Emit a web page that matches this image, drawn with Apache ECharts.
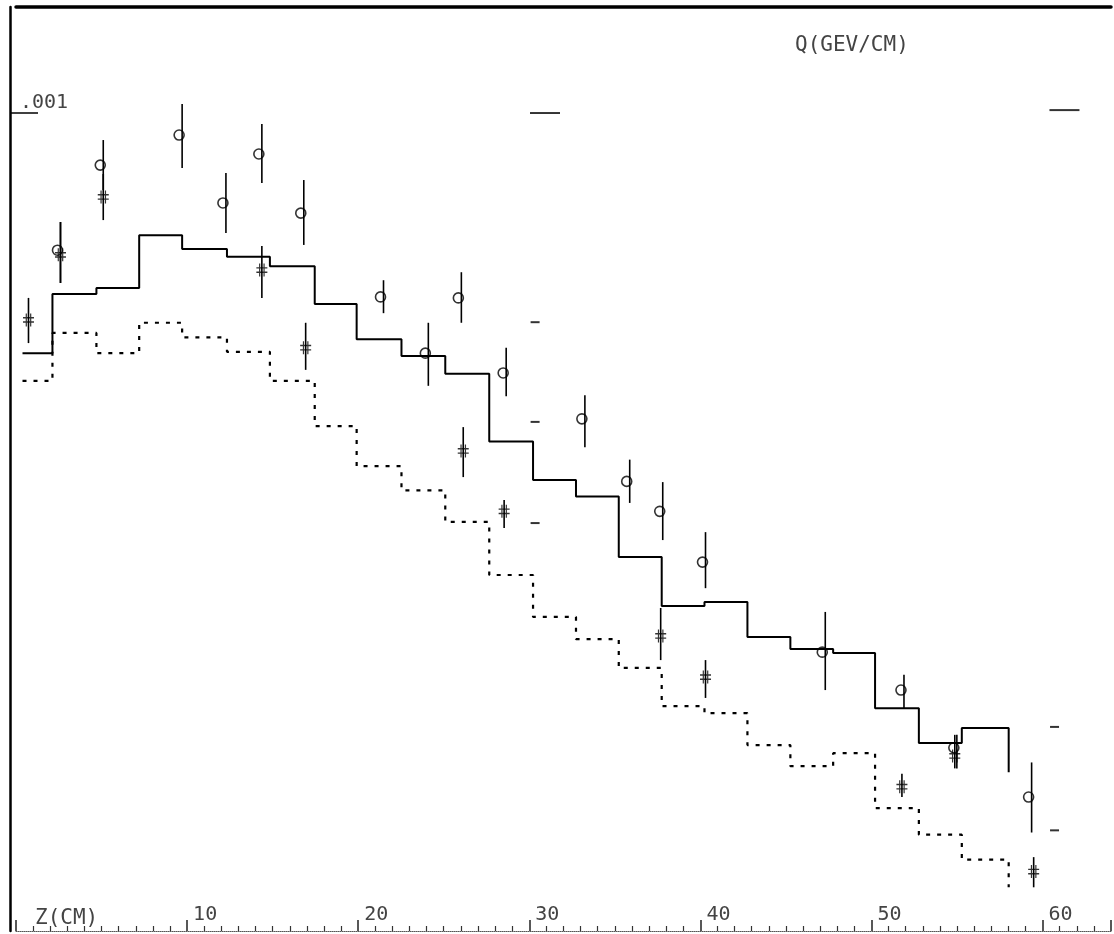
<!DOCTYPE html>
<html>
<head>
<meta charset="utf-8">
<script src="https://cdn.jsdelivr.net/npm/echarts@6/dist/echarts.min.js"></script>
<style>
html,body{margin:0;padding:0;background:#fff;}
#chart{width:1114px;height:934px;}
</style>
</head>
<body>
<div id="chart"></div>
<script>
// Histogram bin edges Z (cm)
const edges = [0.38, 2.13, 4.70, 7.20, 9.71, 12.33, 14.84, 17.46, 19.91, 22.53, 25.09, 27.66, 30.22, 32.73, 35.23, 37.74, 40.24, 42.75, 45.26, 47.76, 50.21, 52.77, 55.28, 58.02];
// Solid histogram levels Q (GeV/cm)
const solidQ = [2.51e-4, 3.53e-4, 3.65e-4, 4.95e-4, 4.57e-4, 4.37e-4, 4.14e-4, 3.33e-4, 2.72e-4, 2.47e-4, 2.23e-4, 1.51e-4, 1.21e-4, 1.10e-4, 7.76e-5, 5.86e-5, 5.99e-5, 4.90e-5, 4.57e-5, 4.47e-5, 3.25e-5, 2.66e-5, 2.90e-5];
const solidTail = 2.25e-5;
// Dashed histogram levels
const dashedQ = [2.14e-4, 2.82e-4, 2.51e-4, 2.99e-4, 2.75e-4, 2.53e-4, 2.14e-4, 1.65e-4, 1.31e-4, 1.14e-4, 9.50e-5, 7.00e-5, 5.50e-5, 4.84e-5, 4.10e-5, 3.29e-5, 3.16e-5, 2.63e-5, 2.33e-5, 2.51e-5, 1.83e-5, 1.57e-5, 1.36e-5];
const dashedTail = 1.16e-5;

// Circle data points
const circZ  = [2.60, 5.10, 9.71, 12.27, 14.37, 16.82, 21.48, 24.10, 26.03, 28.65, 33.25, 35.87, 37.80, 40.30, 47.30, 51.90, 54.99, 59.36];
const circQ  = [4.54e-4, 7.41e-4, 8.81e-4, 5.96e-4, 7.90e-4, 5.62e-4, 3.47e-4, 2.51e-4, 3.45e-4, 2.24e-4, 1.72e-4, 1.20e-4, 1.01e-4, 7.54e-5, 4.49e-5, 3.61e-5, 2.59e-5, 1.95e-5];
const circLo = [3.76e-4, 6.42e-4, 7.29e-4, 5.01e-4, 6.68e-4, 4.68e-4, 3.16e-4, 2.08e-4, 2.99e-4, 1.96e-4, 1.46e-4, 1.06e-4, 8.56e-5, 6.49e-5, 3.61e-5, 3.25e-5, 2.30e-5, 1.59e-5];
const circHi = [5.34e-4, 8.56e-4, 1.053e-3, 7.08e-4, 9.39e-4, 6.80e-4, 3.82e-4, 2.99e-4, 4.00e-4, 2.59e-4, 1.97e-4, 1.36e-4, 1.195e-4, 8.96e-5, 5.66e-5, 3.94e-5, 2.79e-5, 2.38e-5];

// "#" data points
const hashZ  = [0.73, 2.60, 5.10, 14.37, 16.93, 26.14, 28.53, 37.68, 40.30, 51.78, 54.87, 59.48];
const hashQ  = [3.04e-4, 4.42e-4, 6.17e-4, 4.05e-4, 2.59e-4, 1.43e-4, 1.01e-4, 4.93e-5, 3.89e-5, 2.07e-5, 2.47e-5, 1.27e-5];
const hashLo = [2.66e-4, 3.76e-4, 5.40e-4, 3.45e-4, 2.28e-4, 1.23e-4, 9.17e-5, 4.29e-5, 3.45e-5, 1.95e-5, 2.30e-5, 1.16e-5];
const hashHi = [3.45e-4, 5.34e-4, 7.04e-4, 4.65e-4, 2.99e-4, 1.64e-4, 1.078e-4, 5.79e-5, 4.29e-5, 2.23e-5, 2.79e-5, 1.38e-5];

// Short dash marks
const shortZ = [30.34, 30.34, 30.34, 60.70, 60.70];
const shortQ = [3.00e-4, 1.69e-4, 9.44e-5, 2.92e-5, 1.61e-5];
const wideZ = [30.92, 61.28];
const wideQ = [1.0e-3, 1.017e-3];

// Axis
const xTickLabels = {10:'10', 20:'20', 30:'30', 40:'40', 50:'50', 60:'60'};
const yLabelValue = 0.001;
const yLabelText = '.001';

function stepPts(levels, tail) {
  const pts = [];
  for (let i = 0; i < levels.length; i++) {
    pts.push([edges[i], levels[i]]);
    pts.push([edges[i + 1], levels[i]]);
  }
  pts.push([edges[edges.length - 1], tail]);
  return pts;
}
function zip2(a, b) { return a.map((v, i) => [v, b[i]]); }
function zip3(a, b, c) { return a.map((v, i) => [v, b[i], c[i]]); }

function errRender(params, api) {
  const x = api.value(0), lo = api.value(1), hi = api.value(2);
  const p1 = api.coord([x, lo]), p2 = api.coord([x, hi]);
  return {type: 'line', shape: {x1: p1[0], y1: p1[1], x2: p2[0], y2: p2[1]},
          style: {stroke: '#000', lineWidth: 1.6}};
}

const mono = 'DejaVu Sans Mono';
const hashPath = 'path://M3,0 L3,12 M7,0 L7,12 M0,4 L10,4 M0,8 L10,8';

const chart = echarts.init(document.getElementById('chart'), null, {renderer: 'canvas'});
chart.setOption({
  animation: false,
  backgroundColor: '#fff',
  title: [
    {text: 'Q(GEV/CM)', left: 790, top: 30, textStyle: {fontFamily: mono, fontSize: 21, fontWeight: 'normal', color: '#444'}},
    {text: 'Z(CM)', left: 30, top: 903, textStyle: {fontFamily: mono, fontSize: 21, fontWeight: 'normal', color: '#444'}}
  ],
  grid: {left: 16, right: 0, top: 7, bottom: 3, containLabel: false},
  xAxis: [
    {
      type: 'value', min: 0, max: 64, interval: 10, position: 'bottom',
      axisLine: {show: true, onZero: false, lineStyle: {color: '#555', width: 1, type: 'dotted'}},
      axisTick: {show: true, inside: true, length: 11, lineStyle: {color: '#222', width: 1.5}},
      minorTick: {show: true, splitNumber: 10, length: 5, lineStyle: {color: '#333', width: 1.2}},
      axisLabel: {inside: true, margin: 6, align: 'left', verticalAlign: 'bottom', padding: [0, 0, 0, 6],
        fontFamily: mono, fontSize: 20, color: '#444',
        formatter: v => xTickLabels[Math.round(v)] || ''},
      splitLine: {show: false}
    },
    {
      type: 'value', min: 0, max: 64, position: 'top',
      axisLine: {show: true, onZero: false, lineStyle: {color: '#000', width: 3.5}},
      axisTick: {show: false}, axisLabel: {show: false}, splitLine: {show: false}
    }
  ],
  yAxis: {
    type: 'log', logBase: 10, min: 9.02e-6, max: 1.841e-3, offset: 6,
    axisLine: {show: true, onZero: false, lineStyle: {color: '#000', width: 2.5}},
    axisTick: {show: true, inside: true, length: 28, customValues: [yLabelValue], lineStyle: {color: '#000', width: 1.5}},
    axisLabel: {show: true, inside: true, margin: 10, verticalAlign: 'bottom', align: 'left',
      customValues: [yLabelValue], fontFamily: mono, fontSize: 20, color: '#444',
      formatter: v => (Math.abs(Math.log10(v) - Math.log10(yLabelValue)) < 1e-6 ? yLabelText : '')},
    splitLine: {show: false}, minorTick: {show: false}
  },
  series: [
    {type: 'line', data: stepPts(solidQ, solidTail), symbol: 'none',
     lineStyle: {color: '#000', width: 2}},
    {type: 'line', data: stepPts(dashedQ, dashedTail), symbol: 'none',
     lineStyle: {color: '#000', width: 2.2, type: [4, 7]}},
    {type: 'custom', data: zip3(circZ, circLo, circHi), renderItem: errRender, encode: {x: 0, y: [1, 2]}},
    {type: 'custom', data: zip3(hashZ, hashLo, hashHi), renderItem: errRender, encode: {x: 0, y: [1, 2]}},
    {type: 'scatter', data: zip2(circZ, circQ), symbol: 'circle', symbolSize: 10, symbolOffset: [-3, 0],
     itemStyle: {color: 'rgba(0,0,0,0)', borderColor: '#000', borderWidth: 1.6}},
    {type: 'scatter', data: zip2(hashZ, hashQ), symbol: hashPath, symbolSize: [11, 13],
     itemStyle: {color: 'none', borderColor: '#000', borderWidth: 1.3}},
    {type: 'scatter', data: zip2(shortZ, shortQ), symbol: 'rect', symbolSize: [9, 2],
     itemStyle: {color: '#000'}},
    {type: 'scatter', data: zip2(wideZ, wideQ), symbol: 'rect', symbolSize: [30, 2],
     itemStyle: {color: '#000'}}
  ]
});
</script>
</body>
</html>
